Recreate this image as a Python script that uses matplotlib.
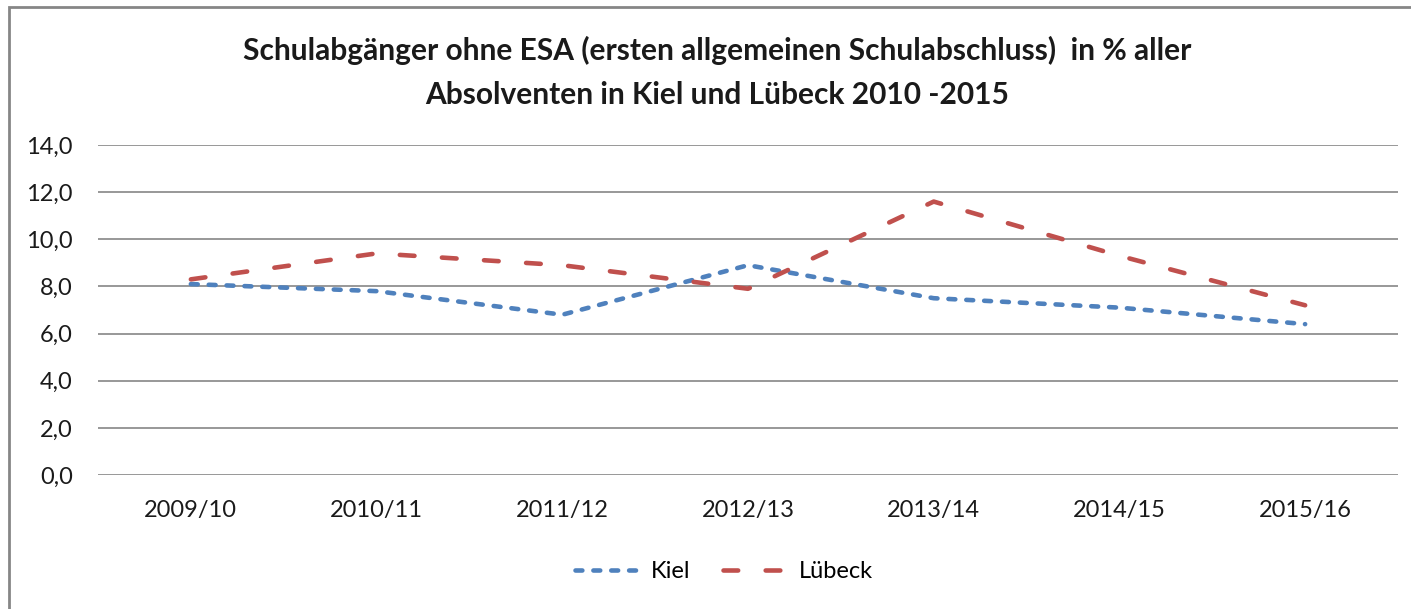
import matplotlib
matplotlib.use("Agg")
import matplotlib.pyplot as plt
import matplotlib.ticker as mticker
from matplotlib.patches import Rectangle

# ── Data ───────────────────────────────────────────────────────
years = ["2009/10", "2010/11", "2011/12", "2012/13", "2013/14", "2014/15", "2015/16"]
kiel = [8.1, 7.8, 6.8, 8.9, 7.5, 7.1, 6.4]
luebeck = [8.3, 9.4, 8.9, 7.9, 11.6, 9.3, 7.2]

COLORS = {"kiel": "#4F81BD", "luebeck": "#C0504D", "grid": "#868686", "text": "#1a1a1a"}

plt.rcParams["font.family"] = ["Lato", "DejaVu Sans"]

W, H = 1411, 609
fig = plt.figure(figsize=(W / 100, H / 100), dpi=100)
fig.patch.set_facecolor("white")

# chart frame (only top/left visible, the rest is cropped)
fig.patches.append(Rectangle((9 / W, -0.1), 1.2, (H - 7) / H + 0.1, transform=fig.transFigure,
                             fill=False, edgecolor=COLORS["grid"], linewidth=2))

ax = fig.add_axes([98 / W, (H - 475) / H, 1300 / W, 330 / H])
x = range(len(years))

ax.plot(x, kiel, color=COLORS["kiel"], linewidth=3.3, dashes=(1.5, 2.4),
        dash_capstyle="round", solid_capstyle="round", label="Kiel")
ax.plot(x, luebeck, color=COLORS["luebeck"], linewidth=3.3, dashes=(3.2, 6.0),
        dash_capstyle="round", label="Lübeck")

ax.set_xlim(-0.5, len(years) - 0.5)
ax.set_ylim(0, 14)
ax.set_yticks(range(0, 15, 2))
ax.yaxis.set_major_formatter(mticker.FuncFormatter(lambda v, p: f"{v:.1f}".replace(".", ",")))
ax.set_xticks(list(x))
ax.set_xticklabels(years)
ax.tick_params(axis="both", length=0, labelsize=17, colors=COLORS["text"])
ax.tick_params(axis="x", pad=18)
ax.tick_params(axis="y", pad=18)

ax.grid(axis="y", color=COLORS["grid"], linewidth=1.2)
ax.set_axisbelow(True)
for s in ax.spines.values():
    s.set_visible(False)

fig.text(0.508, (H - 50) / H, "Schulabgänger ohne ESA (ersten allgemeinen Schulabschluss)  in % aller",
         ha="center", va="center", fontsize=21.5, fontweight="bold", color=COLORS["text"])
fig.text(0.508, (H - 95) / H, "Absolventen in Kiel und Lübeck 2010 -2015",
         ha="center", va="center", fontsize=21.5, fontweight="bold", color=COLORS["text"])

fig.legend(loc="center", bbox_to_anchor=(0.513, (H - 572) / H), ncol=2, frameon=False,
           fontsize=17, handlelength=3.0, handletextpad=0.2, columnspacing=1.4)

fig.savefig("out.png", dpi=100, facecolor="white")
